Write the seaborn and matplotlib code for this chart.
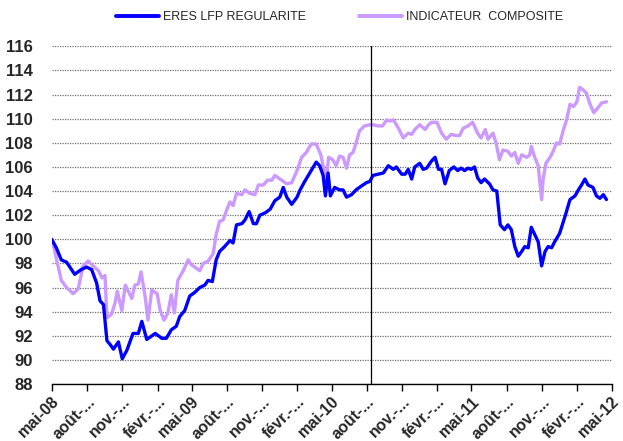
import pandas as pd
import matplotlib
matplotlib.use("Agg")
import matplotlib.pyplot as plt
import seaborn as sns

# Séries (base 100 en mai-08)
eres_dates = [
    "2008-05-01", "2008-05-13", "2008-05-26", "2008-06-09", "2008-06-30", "2008-07-17",
    "2008-07-31", "2008-08-13", "2008-08-26", "2008-09-04", "2008-09-13", "2008-09-22",
    "2008-09-30", "2008-10-09", "2008-10-22", "2008-11-01", "2008-11-13", "2008-11-29",
    "2008-12-13", "2008-12-22", "2009-01-04", "2009-01-26", "2009-02-12", "2009-02-24",
    "2009-03-09", "2009-03-22", "2009-03-31", "2009-04-13", "2009-04-26", "2009-05-09",
    "2009-05-22", "2009-06-04", "2009-06-13", "2009-06-24", "2009-07-04", "2009-07-13",
    "2009-07-26", "2009-08-09", "2009-08-17", "2009-08-26", "2009-09-09", "2009-09-17",
    "2009-09-28", "2009-10-09", "2009-10-17", "2009-10-26", "2009-11-09", "2009-11-22",
    "2009-12-04", "2009-12-17", "2009-12-26", "2010-01-04", "2010-01-17", "2010-01-31",
    "2010-02-08", "2010-02-20", "2010-03-09", "2010-03-22", "2010-03-31", "2010-04-09",
    "2010-04-15", "2010-04-22", "2010-04-28", "2010-05-09", "2010-05-22", "2010-05-31",
    "2010-06-09", "2010-06-22", "2010-07-04", "2010-07-17", "2010-07-31", "2010-08-09",
    "2010-08-17", "2010-08-31", "2010-09-13", "2010-09-26", "2010-10-09", "2010-10-17",
    "2010-10-31", "2010-11-09", "2010-11-17", "2010-11-26", "2010-12-04", "2010-12-17",
    "2010-12-26", "2011-01-04", "2011-01-17", "2011-01-26", "2011-02-04", "2011-02-12",
    "2011-02-21", "2011-03-04", "2011-03-16", "2011-03-26", "2011-04-04", "2011-04-13",
    "2011-04-22", "2011-04-30", "2011-05-09", "2011-05-17", "2011-05-26", "2011-06-04",
    "2011-06-17", "2011-06-26", "2011-07-06", "2011-07-15", "2011-07-26", "2011-08-04",
    "2011-08-13", "2011-08-22", "2011-08-31", "2011-09-09", "2011-09-17", "2011-09-26",
    "2011-10-04", "2011-10-13", "2011-10-22", "2011-10-31", "2011-11-09", "2011-11-17",
    "2011-11-26", "2011-12-04", "2011-12-17", "2011-12-31", "2012-01-13", "2012-01-26",
    "2012-02-04", "2012-02-12", "2012-02-21", "2012-02-29", "2012-03-13", "2012-03-22",
    "2012-03-31", "2012-04-09", "2012-04-17",
]
eres_values = [
    100.0, 99.3, 98.3, 98.1, 97.1, 97.5,
    97.7, 97.5, 96.4, 94.9, 94.6, 91.6,
    91.3, 90.9, 91.5, 90.1, 90.8, 92.2,
    92.2, 93.2, 91.7, 92.2, 91.8, 91.8,
    92.5, 92.8, 93.6, 94.1, 95.3, 95.6,
    96.0, 96.2, 96.6, 96.5, 98.3, 99.0,
    99.4, 99.9, 99.7, 101.2, 101.3, 101.6,
    102.3, 101.3, 101.3, 102.0, 102.2, 102.5,
    103.2, 103.5, 104.3, 103.5, 102.9, 103.5,
    104.1, 104.8, 105.7, 106.4, 106.1, 105.3,
    103.6, 105.5, 103.6, 104.3, 104.1, 104.1,
    103.5, 103.7, 104.1, 104.4, 104.7, 104.8,
    105.3, 105.4, 105.5, 106.1, 105.8, 106.0,
    105.4, 105.4, 105.8, 105.0, 106.0, 106.3,
    105.8, 105.9, 106.5, 106.8, 105.8, 105.8,
    104.6, 105.7, 106.0, 105.7, 105.9, 105.7,
    105.9, 105.8, 106.0, 105.1, 104.7, 105.0,
    104.6, 104.1, 104.0, 101.2, 100.8, 101.2,
    100.8, 99.4, 98.6, 99.0, 99.4, 99.3,
    101.0, 100.4, 99.8, 97.8, 99.0, 99.4,
    99.3, 99.8, 100.5, 101.9, 103.3, 103.6,
    104.1, 104.5, 105.0, 104.5, 104.3, 103.6,
    103.4, 103.7, 103.3,
]

composite_dates = [
    "2008-05-01", "2008-05-09", "2008-05-26", "2008-06-09", "2008-06-26", "2008-07-09",
    "2008-07-22", "2008-08-04", "2008-08-17", "2008-08-31", "2008-09-09", "2008-09-17",
    "2008-09-22", "2008-10-04", "2008-10-13", "2008-10-19", "2008-10-31", "2008-11-09",
    "2008-11-26", "2008-12-04", "2008-12-13", "2008-12-20", "2008-12-31", "2009-01-07",
    "2009-01-17", "2009-01-31", "2009-02-08", "2009-02-18", "2009-02-28", "2009-03-09",
    "2009-03-17", "2009-03-26", "2009-04-09", "2009-04-22", "2009-04-30", "2009-05-13",
    "2009-05-22", "2009-05-31", "2009-06-13", "2009-06-26", "2009-07-04", "2009-07-13",
    "2009-07-22", "2009-07-31", "2009-08-09", "2009-08-17", "2009-08-26", "2009-09-09",
    "2009-09-17", "2009-09-30", "2009-10-13", "2009-10-22", "2009-11-04", "2009-11-15",
    "2009-11-26", "2009-12-04", "2009-12-13", "2009-12-26", "2010-01-04", "2010-01-17",
    "2010-01-31", "2010-02-12", "2010-02-24", "2010-03-09", "2010-03-22", "2010-04-03",
    "2010-04-11", "2010-04-16", "2010-04-23", "2010-05-04", "2010-05-13", "2010-05-22",
    "2010-05-31", "2010-06-09", "2010-06-17", "2010-06-26", "2010-07-04", "2010-07-13",
    "2010-07-26", "2010-08-09", "2010-08-17", "2010-08-31", "2010-09-11", "2010-09-22",
    "2010-09-30", "2010-10-09", "2010-10-17", "2010-10-26", "2010-11-04", "2010-11-17",
    "2010-11-26", "2010-12-04", "2010-12-17", "2010-12-31", "2011-01-09", "2011-01-17",
    "2011-01-31", "2011-02-12", "2011-02-24", "2011-03-09", "2011-03-22", "2011-03-31",
    "2011-04-09", "2011-04-22", "2011-05-04", "2011-05-17", "2011-05-26", "2011-06-06",
    "2011-06-13", "2011-06-26", "2011-07-04", "2011-07-13", "2011-07-22", "2011-08-04",
    "2011-08-13", "2011-08-22", "2011-08-31", "2011-09-09", "2011-09-22", "2011-09-30",
    "2011-10-04", "2011-10-13", "2011-10-22", "2011-10-31", "2011-11-04", "2011-11-11",
    "2011-11-22", "2011-11-30", "2011-12-09", "2011-12-17", "2011-12-26", "2012-01-04",
    "2012-01-13", "2012-01-22", "2012-01-31", "2012-02-07", "2012-02-16", "2012-02-25",
    "2012-03-04", "2012-03-15", "2012-03-26", "2012-04-04", "2012-04-17",
]
composite_values = [
    100.0, 99.0, 96.6, 96.0, 95.5, 95.9,
    97.8, 98.2, 97.8, 97.4, 96.8, 97.0,
    93.5, 93.8, 94.7, 95.7, 94.1, 96.2,
    95.1, 96.2, 96.3, 97.3, 95.2, 93.3,
    95.8, 95.5, 94.1, 93.3, 93.9, 95.4,
    93.9, 96.6, 97.4, 98.3, 97.9, 97.6,
    97.4, 98.0, 98.2, 98.8, 100.4, 101.5,
    101.6, 102.4, 103.1, 102.8, 103.8, 103.7,
    104.1, 103.8, 103.7, 104.5, 104.5, 104.9,
    104.9, 105.3, 105.1, 104.8, 104.6, 104.7,
    105.7, 106.8, 107.2, 107.9, 107.9, 107.0,
    105.8, 104.1, 106.8, 106.6, 106.1, 106.9,
    106.8, 105.9, 107.0, 107.2, 108.0, 109.0,
    109.4, 109.5, 109.5, 109.4, 109.4, 109.9,
    109.8, 109.9, 109.5, 109.0, 108.4, 108.8,
    108.7, 109.1, 109.5, 109.1, 109.5, 109.7,
    109.7, 108.8, 108.3, 108.7, 108.6, 108.6,
    109.2, 109.4, 109.7, 108.8, 108.4, 109.1,
    108.3, 108.8, 108.0, 106.6, 107.4, 107.3,
    106.9, 107.2, 106.3, 107.0, 106.8, 107.0,
    107.7, 106.8, 106.1, 103.3, 105.0, 106.3,
    106.8, 107.3, 108.0, 107.9, 109.0, 109.9,
    111.2, 111.0, 111.4, 112.6, 112.4, 112.1,
    111.3, 110.5, 110.9, 111.3, 111.4,
]

tick_dates = pd.date_range("2008-05-01", "2012-05-01", freq="3MS")
tick_labels = [
    "mai-08", "août-...", "nov.-...", "févr.-...", "mai-09", "août-...", "nov.-...",
    "févr.-...", "mai-10", "août-...", "nov.-...", "févr.-...", "mai-11", "août-...",
    "nov.-...", "févr.-...", "mai-12",
]
marker_date = "2010-08-13"

series_names = ["ERES LFP REGULARITE", "INDICATEUR  COMPOSITE"]
colors = {series_names[0]: "#0000FF", series_names[1]: "#CC99FF"}

df = pd.concat([
    pd.DataFrame({"date": pd.to_datetime(eres_dates), "value": eres_values,
                  "serie": series_names[0]}),
    pd.DataFrame({"date": pd.to_datetime(composite_dates), "value": composite_values,
                  "serie": series_names[1]}),
])

sns.set_style("white")
plt.rcParams["font.family"] = ["Liberation Sans", "DejaVu Sans"]

fig, ax = plt.subplots(figsize=(6.23, 4.41), dpi=100)
fig.subplots_adjust(left=0.083, right=0.982, top=0.895, bottom=0.129)

# l'ordre inverse met la courbe bleue au-dessus
sns.lineplot(data=df, x="date", y="value", hue="serie", hue_order=series_names[::-1],
             palette=colors, linewidth=2.4, ax=ax, legend=False, estimator=None)

ax.axvline(pd.Timestamp(marker_date), color="black", linewidth=0.9, zorder=5)

ax.set_ylim(88, 116)
ax.set_yticks(range(88, 117, 2))
ax.set_xlim(tick_dates[0], tick_dates[-1])
ax.set_xticks(tick_dates)
ax.set_xticklabels(tick_labels, rotation=45, ha="right", rotation_mode="anchor",
                   fontsize=11.5, fontweight="bold")
for lab in ax.get_yticklabels():
    lab.set_fontsize(12)
    lab.set_fontweight("bold")
ax.set_xlabel("")
ax.set_ylabel("")

ax.yaxis.grid(True, linestyle=(0, (1, 1)), color="#707070", linewidth=0.9)
ax.xaxis.grid(False)
for side in ["left", "right", "top"]:
    ax.spines[side].set_visible(False)
ax.spines["bottom"].set_color("black")
ax.spines["bottom"].set_linewidth(1.0)
ax.tick_params(axis="x", bottom=True, direction="out", length=5, width=1, color="black",
               pad=2)
ax.tick_params(axis="y", left=False, pad=10)

handles = [plt.Line2D([], [], color=colors[n], linewidth=2.8) for n in series_names]
fig.legend(handles, series_names, loc="center", bbox_to_anchor=(0.545, 0.961), ncol=2,
           frameon=False, fontsize=9, handlelength=3.5, columnspacing=4.2,
           handletextpad=0.3)

fig.savefig("out.png", dpi=100)
